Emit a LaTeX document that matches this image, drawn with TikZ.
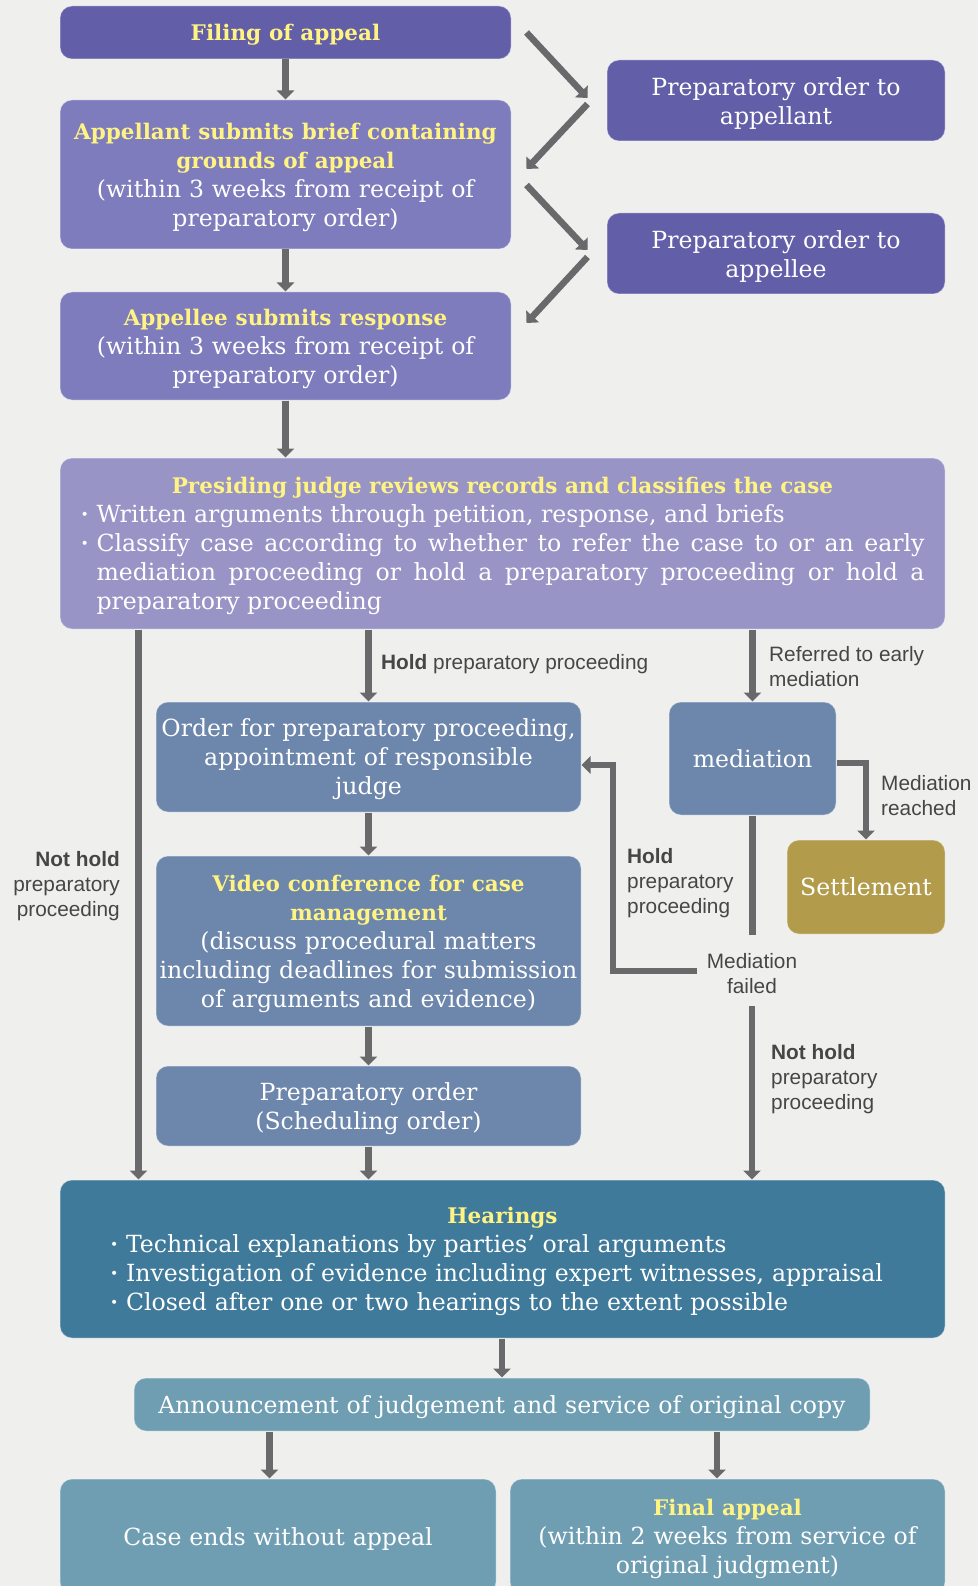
\documentclass[tikz,border=0pt]{standalone}
\usepackage{fontspec}
\setmainfont{DejaVu Serif}
\newfontfamily\labfont{Liberation Sans}
\usetikzlibrary{arrows.meta,calc}

\definecolor{bg}{RGB}{239,239,237}
\definecolor{cDark}{RGB}{98,94,168}
\definecolor{cMid}{RGB}{126,124,188}
\definecolor{cPres}{RGB}{152,148,198}
\definecolor{cSlate}{RGB}{109,134,171}
\definecolor{cGold}{RGB}{178,156,76}
\definecolor{cTeal}{RGB}{63,122,155}
\definecolor{cLight}{RGB}{111,158,179}
\definecolor{hy}{RGB}{255,243,131}
\definecolor{acol}{RGB}{105,105,108}
\definecolor{labc}{RGB}{70,70,70}

% highlighted (bold, yellow) box text, set a little smaller than the body
\newcommand\hl[1]{{\fontsize{21.5}{29}\selectfont\bfseries\color{hy}#1}}
\newcommand\bul{\makebox[16pt][l]{\raisebox{0.12em}{\fontsize{14}{14}\selectfont •}}}
% trims the bottom of box text so it sits a little lower in its box
\newcommand\boxtextend{\par\vspace*{-5pt}}

\begin{document}
\begin{tikzpicture}[x=1pt,y=-1pt,
  box/.style={rounded corners=12pt, inner sep=0pt, align=center, text=white,
    font=\fontsize{23.6}{29}\selectfont, draw=white, draw opacity=0.35, line width=1pt,
    execute at end node=\boxtextend},
  lab/.style={font=\labfont\fontsize{20.8}{25}\selectfont, text=labc, inner sep=0pt},
  arr/.style={draw=acol, line width=6.5pt, -{Triangle[width=17pt,length=9pt]}},
  plain/.style={draw=acol, line width=6.5pt}]

\useasboundingbox (0,0) rectangle (978,1586);
\fill[bg] (0,0) rectangle (978,1586);
\clip (0,0) rectangle (978,1586);

% ---- appeal filing stage
\node[box, fill=cDark, minimum width=451pt, minimum height=53pt, text width=440pt] (filing) at (285.5,32.5) {\hl{Filing of appeal}};
\node[box, fill=cMid, minimum width=451pt, minimum height=149pt, text width=440pt] (apnt) at (285.5,174.5)
  {\hl{Appellant submits brief containing}\\\hl{grounds of appeal}\\(within 3 weeks from receipt of\\preparatory order)};
\node[box, fill=cMid, minimum width=451pt, minimum height=108pt, text width=440pt] (apee) at (285.5,346)
  {\hl{Appellee submits response}\\(within 3 weeks from receipt of\\preparatory order)};
\node[box, fill=cDark, minimum width=338pt, minimum height=81pt, text width=320pt] (prepA) at (776,100.5)
  {Preparatory order to\\appellant};
\node[box, fill=cDark, minimum width=338pt, minimum height=81pt, text width=320pt] (prepB) at (776,253.5)
  {Preparatory order to\\appellee};

% ---- classification
\node[box, fill=cPres, minimum width=885pt, minimum height=171pt, text width=844pt, align=justify] (pres) at (502.5,543.5) {%
  {\centering\hl{Presiding judge reviews records and classifies the case}\par}
  \bul Written arguments through petition, response, and briefs\par
  \bul\parbox[t]{828pt}{Classify case according to whether to refer the case to or an early\linebreak
  mediation proceeding or hold a preparatory proceeding or hold a\linebreak
  preparatory proceeding}};

% ---- preparatory branch
\node[box, fill=cSlate, minimum width=425pt, minimum height=110pt, text width=420pt] (order) at (368.5,757)
  {Order for preparatory proceeding,\\appointment of responsible\\judge};
\node[box, fill=cSlate, minimum width=425pt, minimum height=170pt, text width=420pt] (video) at (368.5,941)
  {\hl{Video conference for case}\\\hl{management}\\(discuss procedural matters\\including deadlines for submission\\of arguments and evidence)};
\node[box, fill=cSlate, minimum width=425pt, minimum height=80pt, text width=420pt] (sched) at (368.5,1106)
  {Preparatory order\\(Scheduling order)};

% ---- mediation branch
\node[box, fill=cSlate, minimum width=167pt, minimum height=113pt, text width=160pt] (med) at (752.5,758.5) {mediation};
\node[box, fill=cGold, minimum width=158pt, minimum height=94pt, text width=150pt] (settle) at (866,887) {Settlement};

% ---- hearings and judgement
\node[box, fill=cTeal, minimum width=885pt, minimum height=158pt, text width=785pt, align=left] (hear) at (502.5,1259) {%
  {\centering\hl{Hearings}\par}
  \bul Technical explanations by parties’ oral arguments\par
  \bul Investigation of evidence including expert witnesses, appraisal\par
  \bul Closed after one or two hearings to the extent possible};
\node[box, fill=cLight, minimum width=736pt, minimum height=53pt, text width=720pt] (ann) at (502,1404.5)
  {Announcement of judgement and service of original copy};
\node[box, fill=cLight, minimum width=436pt, minimum height=115pt, text width=420pt] (endL) at (278,1536.5)
  {Case ends without appeal};
\node[box, fill=cLight, minimum width=435pt, minimum height=115pt, text width=420pt] (endR) at (727.5,1536.5)
  {\hl{Final appeal}\\(within 2 weeks from service of\\original judgment)};

% ---- connector labels
\node[lab, anchor=west] (lHold) at (381,664) {\textbf{Hold} preparatory proceeding};
\node[lab, anchor=west, align=left] (lRef) at (769,667) {Referred to early\\mediation};
\node[lab, anchor=west, align=left] (lReach) at (881,796) {Mediation\\reached};
\node[lab, anchor=east, align=right] (lNot1) at (120,886) {\textbf{Not hold}\\preparatory\\proceeding};
\node[lab, anchor=west, align=left] (lHold2) at (627,883) {\textbf{Hold}\\preparatory\\proceeding};
\node[lab, align=center] (failed) at (752,974) {Mediation\\failed};
\node[lab, anchor=west, align=left] (lNot2) at (771,1079) {\textbf{Not hold}\\preparatory\\proceeding};

% ---- connectors
\draw[arr] (filing.south) -- (apnt.north);
\draw[arr] (apnt.south) -- (apee.north);
\draw[arr] (apee.south) -- (apee.south |- pres.north);

\draw[arr] ($(filing.east)+(15,0)$) -- ($(prepA.west)+(-19,-2.5)$);
\draw[arr] ($(prepA.west)+(-19,3.5)$) -- ($(apnt.east)+(15,-5.5)$);
\draw[arr] ($(apnt.east)+(15,10.5)$) -- ($(prepB.west)+(-19,-3.5)$);
\draw[arr] ($(prepB.west)+(-19,3.5)$) -- ($(apee.east)+(15,-23)$);

\draw[arr] (pres.south -| 138.5,0) -- (hear.north -| 138.5,0);
\draw[arr] (pres.south -| order.north) -- (order.north);
\draw[arr] (pres.south -| med.north) -- (med.north);
\draw[arr] (order.south) -- (video.north);
\draw[arr] (video.south) -- (sched.north);
\draw[arr] (sched.south) -- (sched.south |- hear.north);

\draw[arr] ($(med.east)+(0,4.5)$) -| (settle.north);
\draw[plain] (med.south) -- (med.south |- settle.south);
\draw[arr] ($(failed.west)+(-10,-3)$) -- (613,971) |- ($(order.east)+(0,8)$);
\draw[arr] ($(failed.south)+(0,12)$) -- (failed.south |- hear.north);

\draw[arr] (hear.south -| ann.north) -- (ann.north);
\draw[arr] (ann.south -| 269.5,0) -- (endL.north -| 269.5,0);
\draw[arr] (ann.south -| 717,0) -- (endR.north -| 717,0);

\end{tikzpicture}
\end{document}
